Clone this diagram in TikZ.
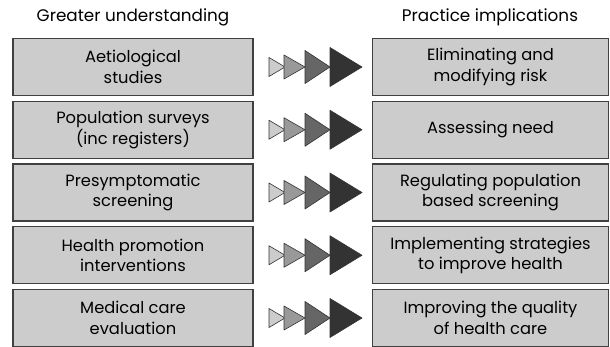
\documentclass[tikz,border=0pt]{standalone}
\usepackage{fontspec}
\setmainfont{Poppins}
\begin{document}
\begin{tikzpicture}[x=1pt,y=-1pt,
  box/.style={draw=black!75, line width=1.1pt, fill=black!20, minimum width=240pt,
    minimum height=57pt, align=center, font=\fontsize{16.3}{20.5}\selectfont, inner sep=0pt},
  head/.style={font=\fontsize{16.8}{20}\selectfont, inner sep=0pt},
  tri/.style={draw=black!80, line width=0.6pt, line join=round}]
\useasboundingbox (0,0) rectangle (610,347);
\fill[white] (0,0) rectangle (610,347);

\node[head] (hl) at (133,17) {Greater understanding};
\node[head] (hr) at (490,17) {Practice implications};

% one row of four growing triangles, centred vertically at #1
\newcommand{\triarrow}[1]{%
  \draw[tri, fill=black!20] (269,#1-9.5) -- (285,#1) -- (269,#1+9.5) -- cycle;
  \draw[tri, fill=black!40] (284,#1-12) -- (305,#1) -- (284,#1+12) -- cycle;
  \draw[tri, fill=black!60] (305,#1-16.5) -- (330,#1) -- (305,#1+16.5) -- cycle;
  \draw[tri, fill=black!80] (330,#1-19.5) -- (362,#1) -- (330,#1+19.5) -- cycle;
}

\foreach \i/\lt/\rt in {
  0/{Aetiological\\studies}/{Eliminating and\\modifying risk},
  1/{Population surveys\\(inc registers)}/{Assessing need},
  2/{Presymptomatic\\screening}/{Regulating population\\based screening},
  3/{Health promotion\\interventions}/{Implementing strategies\\to improve health},
  4/{Medical care\\evaluation}/{Improving the quality\\of health care}}
{
  \pgfmathsetmacro{\yc}{67+62.75*\i}
  \node[box] (l\i) at (133,\yc) {\lt};
  \node[box, minimum width=236pt] (r\i) at (490.5,\yc) {\rt};
  \triarrow{\yc}
}
\end{tikzpicture}
\end{document}
